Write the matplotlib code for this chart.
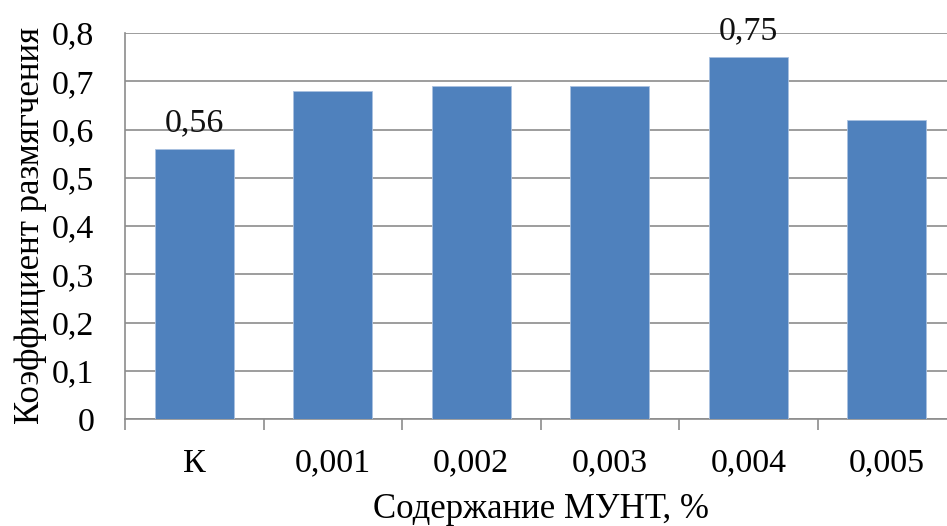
import matplotlib.pyplot as plt

categories = ["К", "0,001", "0,002", "0,003", "0,004", "0,005"]
values = [0.56, 0.68, 0.69, 0.69, 0.75, 0.62]
labeled = {0: "0,56", 4: "0,75"}
yticks = [0, 0.1, 0.2, 0.3, 0.4, 0.5, 0.6, 0.7, 0.8]
ytick_labels = ["0", "0,1", "0,2", "0,3", "0,4", "0,5", "0,6", "0,7", "0,8"]

BAR = "#4f81bd"
GRID = "#8c8c8c"
FS = 24.5
LABEL_FS = 25

plt.rcParams["font.family"] = ["Liberation Serif", "DejaVu Serif"]

fig = plt.figure(figsize=(9.47, 5.26), dpi=100)
ax = fig.add_axes([125 / 947, 1 - 419 / 526, 831 / 947, 386 / 526])

x = range(len(categories))
ax.bar(x, values, width=0.57, color=BAR, edgecolor="#a9c1e0", linewidth=0.6, zorder=3)
for i, txt in labeled.items():
    ax.text(i, values[i] + 0.022, txt, ha="center", va="bottom", fontsize=FS, color="#111")

ax.set_xlim(-0.5, len(categories) - 0.5)
ax.set_ylim(0, 0.8)
ax.set_yticks(yticks)
ax.set_yticklabels(ytick_labels)
ax.yaxis.grid(True, color=GRID, linewidth=1.2, zorder=0)
ax.tick_params(axis="y", length=0, pad=22, labelsize=FS)

ax.set_xticks([i - 0.5 for i in range(len(categories) + 1)], minor=False)
ax.set_xticklabels([""] * (len(categories) + 1))
ax.set_xticks(list(x), minor=True)
ax.set_xticklabels(categories, minor=True)
ax.tick_params(axis="x", which="major", length=8, width=1.2, color=GRID, direction="out")
ax.tick_params(axis="x", which="minor", length=0, pad=21, labelsize=FS)

for side in ("top", "right"):
    ax.spines[side].set_visible(False)
for side in ("left", "bottom"):
    ax.spines[side].set_color(GRID)
    ax.spines[side].set_linewidth(1.2)

ax.set_xlabel("Содержание МУНТ, %", fontsize=LABEL_FS, labelpad=10)
ax.set_ylabel("Коэффициент размягчения", fontsize=LABEL_FS, labelpad=4)

fig.savefig("out.png", dpi=100)
